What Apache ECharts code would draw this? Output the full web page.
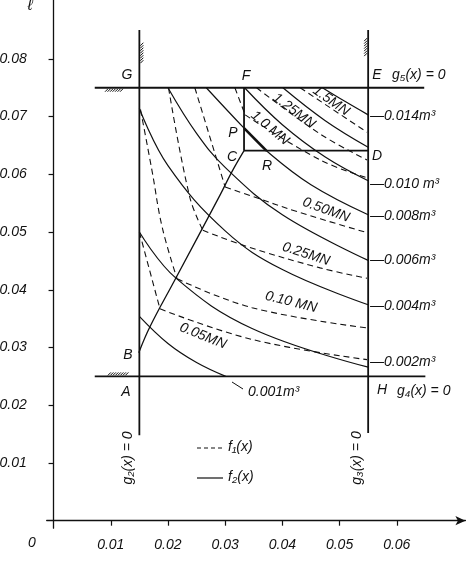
<!DOCTYPE html>
<html>
<head>
<meta charset="utf-8">
<script src="https://cdn.jsdelivr.net/npm/echarts@6/dist/echarts.min.js"></script>
<style>
  html, body { margin: 0; padding: 0; background: #fff; }
  #chart { width: 467px; height: 564px; }
</style>
</head>
<body>
<div id="chart"></div>
<script>
// axis ticks
const xTicks = [0.01, 0.02, 0.03, 0.04, 0.05, 0.06];
const yTicks = [0.01, 0.02, 0.03, 0.04, 0.05, 0.06, 0.07, 0.08];

// f2(x): volume contours (solid), m3
const volumeLevels = ["0.001", "0.002", "0.004", "0.006", "0.008", "0.010", "0.012", "0.014"];
const volumeCurves = [
  [[0.015, 0.0354], [0.020, 0.0307], [0.025, 0.0274], [0.0301, 0.025]],
  [[0.015, 0.0500], [0.0213, 0.0421], [0.0347, 0.0333], [0.055, 0.0266]],
  [[0.015, 0.0714], [0.020, 0.0615], [0.030, 0.0502], [0.040, 0.0435], [0.055, 0.0374]],
  [[0.0200, 0.075], [0.025, 0.0671], [0.030, 0.0612], [0.040, 0.0530], [0.055, 0.0451]],
  [[0.0267, 0.075], [0.0333, 0.0680], [0.0372, 0.0641], [0.045, 0.0582], [0.055, 0.0530]],
  [[0.0334, 0.075], [0.040, 0.0686], [0.0475, 0.0630], [0.055, 0.0589]],
  [[0.0401, 0.075], [0.0475, 0.0693], [0.055, 0.0647]],
  [[0.0470, 0.075], [0.051, 0.0726], [0.055, 0.0703]],
];

// f1(x): force contours (dashed), MN - steep branch and flat branch
const forceLevels = ["0.05", "0.10", "0.25", "0.50", "1.0", "1.25", "1.5"];
const forceSteep = [
  [[0.0150, 0.0500], [0.0186, 0.0367]],
  [[0.0152, 0.0712], [0.0172, 0.0607], [0.0190, 0.0508], [0.0216, 0.0419]],
  [[0.0201, 0.075], [0.0238, 0.0561], [0.0261, 0.0503]],
  [[0.0247, 0.075], [0.0300, 0.0578]],
  [[0.0317, 0.075], [0.0335, 0.0703]],
  [],
  [],
];
const forceFlat = [
  [[0.0186, 0.0367], [0.0347, 0.0314], [0.0548, 0.0279]],
  [[0.0216, 0.0419], [0.0347, 0.0369], [0.0548, 0.0334]],
  [[0.0261, 0.0503], [0.0338, 0.0475], [0.0466, 0.0438], [0.0548, 0.0420]],
  [[0.0300, 0.0578], [0.0347, 0.0562], [0.0427, 0.0535], [0.0548, 0.0499]],
  [[0.0335, 0.0703], [0.0466, 0.0625], [0.0548, 0.0594]],
  [[0.0355, 0.075], [0.0466, 0.0670], [0.0548, 0.0625]],
  [[0.0431, 0.075], [0.0548, 0.0673]],
];

// constraint lines and the design box
const g2Line = [[0.015, 0.0148], [0.015, 0.085]];
const g3Line = [[0.055, 0.0152], [0.055, 0.085]];
const g4Line = [[0.0072, 0.025], [0.0650, 0.025]];
const g5Line = [[0.0072, 0.075], [0.0648, 0.075]];
const lineFC = [[0.0333, 0.075], [0.0333, 0.0641]];
const lineCD = [[0.0333, 0.0641], [0.055, 0.0641]];
const pathBC = [[0.0149, 0.0291], [0.01685, 0.0336], [0.0212, 0.0417], [0.0291, 0.0564], [0.0311, 0.0603], [0.0333, 0.0641]];
const segmentPR = [[0.0333, 0.0680], [0.0372, 0.0641]];

// hatched supports: x1, y1, x2, y2, side (0 below, 1 above, 2 right, 3 left)
const hatches = [
  [0.0090, 0.075, 0.0119, 0.075, 0],
  [0.0095, 0.025, 0.0128, 0.025, 1],
  [0.015, 0.0796, 0.015, 0.0828, 2],
  [0.055, 0.0810, 0.055, 0.0836, 3],
];

const FONT = '"Liberation Sans", Arial, sans-serif';
const INK = "#111";

function curve(data, dashed, width, z) {
  return {
    type: "line",
    data: data,
    symbol: "none",
    smooth: data.length > 2 ? 0.4 : false,
    silent: true,
    animation: false,
    z: z || 2,
    lineStyle: { color: INK, width: width || 1.2, type: dashed ? [6, 4] : "solid" },
  };
}

const series = [];
volumeCurves.forEach(function (d) { series.push(curve(d, false, 1.2)); });
forceSteep.forEach(function (d) { if (d.length) series.push(curve(d, true, 1.1)); });
forceFlat.forEach(function (d) { series.push(curve(d, true, 1.1)); });
[g2Line, g3Line, g4Line, g5Line, lineFC, lineCD].forEach(function (d) {
  series.push(curve(d, false, 1.8, 3));
});
series.push(curve(pathBC, false, 1.3, 3));
series.push(curve(segmentPR, false, 2.6, 4));

series.push({
  type: "custom",
  data: hatches,
  silent: true,
  animation: false,
  encode: { x: [0, 2], y: [1, 3] },
  renderItem: function (params, api) {
    const p1 = api.coord([api.value(0), api.value(1)]);
    const p2 = api.coord([api.value(2), api.value(3)]);
    const side = api.value(4);
    const kids = [];
    const st = { stroke: INK, lineWidth: 1 };
    if (side < 2) {
      const y = p1[1];
      for (let x = p1[0]; x < p2[0]; x += 2.5) {
        const a = side === 0 ? [x, y + 4] : [x, y - 1];
        const b = side === 0 ? [x + 3, y + 1] : [x + 3, y - 4];
        kids.push({ type: "line", shape: { x1: a[0], y1: a[1], x2: b[0], y2: b[1] }, style: st });
      }
    } else {
      const x = p1[0];
      for (let y = p2[1]; y < p1[1]; y += 2.5) {
        const a = side === 2 ? [x + 1, y + 3] : [x - 4, y + 3];
        const b = side === 2 ? [x + 4, y] : [x - 1, y];
        kids.push({ type: "line", shape: { x1: a[0], y1: a[1], x2: b[0], y2: b[1] }, style: st });
      }
    }
    return { type: "group", children: kids };
  },
});

function txt(text, x, y, opts) {
  opts = opts || {};
  return {
    type: "text",
    x: x,
    y: y,
    rotation: (opts.rot || 0) * Math.PI / 180,
    z: 10,
    style: {
      text: text,
      fill: INK,
      fontFamily: FONT,
      fontStyle: "italic",
      fontSize: opts.size || 14,
      align: opts.align || "center",
      verticalAlign: "middle",
    },
  };
}

const graphics = [
  txt("0", 32, 543),
  txt("ℓ", 30, 6, { size: 16 }),
  txt("G", 127, 75),
  txt("F", 246, 76),
  txt("E", 377, 75),
  txt("g₅(x) = 0", 392, 75, { align: "left" }),
  txt("P", 233, 133),
  txt("C", 232, 157),
  txt("R", 267, 166),
  txt("D", 377, 156),
  txt("B", 128, 355),
  txt("A", 126, 392),
  txt("H", 382, 390),
  txt("g₄(x) = 0", 397, 391, { align: "left" }),
  txt("g₂(x) = 0", 128, 458, { rot: 90 }),
  txt("g₃(x) = 0", 357, 458, { rot: 90 }),
  txt("1.5MN", 331, 101, { rot: -35 }),
  txt("1.25MN", 294, 111, { rot: -37 }),
  txt("1.0 MN", 270, 128, { rot: -40 }),
  txt("0.50MN", 326, 210, { rot: -20 }),
  txt("0.25MN", 306, 254, { rot: -18 }),
  txt("0.10 MN", 291, 302, { rot: -14 }),
  txt("0.05MN", 203, 336, { rot: -22 }),
  txt("—0.014m³", 370, 116, { align: "left" }),
  txt("—0.010 m³", 370, 184, { align: "left" }),
  txt("—0.008m³", 370, 216, { align: "left" }),
  txt("—0.006m³", 370, 260, { align: "left" }),
  txt("—0.004m³", 370, 306, { align: "left" }),
  txt("—0.002m³", 370, 362, { align: "left" }),
  txt("0.001m³", 248, 392, { align: "left" }),
  { type: "line", shape: { x1: 232, y1: 382, x2: 243, y2: 389 }, style: { stroke: INK, lineWidth: 1 } },
  { type: "line", shape: { x1: 197, y1: 448, x2: 223, y2: 448 }, style: { stroke: INK, lineWidth: 1.1, lineDash: [4, 3] } },
  { type: "line", shape: { x1: 197, y1: 478, x2: 223, y2: 478 }, style: { stroke: INK, lineWidth: 1.2 } },
  txt("f₁(x)", 228, 447, { align: "left" }),
  txt("f₂(x)", 228, 477, { align: "left" }),
];

const chart = echarts.init(document.getElementById("chart"));
chart.setOption({
  backgroundColor: "#fff",
  animation: false,
  grid: { left: 46.7, right: 1.6, top: 0, bottom: 35.8, containLabel: false, outerBoundsMode: "none" },
  xAxis: {
    type: "value",
    min: -0.0012,
    max: 0.072,
    splitLine: { show: false },
    axisLine: { onZero: true, symbol: ["none", "arrow"], symbolSize: [7, 10], lineStyle: { color: INK, width: 1.3 } },
    axisTick: { customValues: xTicks, length: 5, lineStyle: { color: INK, width: 1.2 } },
    axisLabel: {
      customValues: xTicks,
      formatter: function (v) { return v.toFixed(2); },
      margin: 10,
      color: INK,
      fontFamily: FONT,
      fontStyle: "italic",
      fontSize: 14,
    },
  },
  yAxis: {
    type: "value",
    min: -0.0013,
    max: 0.0902,
    splitLine: { show: false },
    axisLine: { onZero: true, lineStyle: { color: INK, width: 1.3 } },
    axisTick: { customValues: yTicks, length: 5, lineStyle: { color: INK, width: 1.2 } },
    axisLabel: {
      customValues: yTicks,
      formatter: function (v) { return v.toFixed(2); },
      margin: 20,
      color: INK,
      fontFamily: FONT,
      fontStyle: "italic",
      fontSize: 14,
    },
  },
  series: series,
  graphic: graphics,
});
</script>
</body>
</html>
